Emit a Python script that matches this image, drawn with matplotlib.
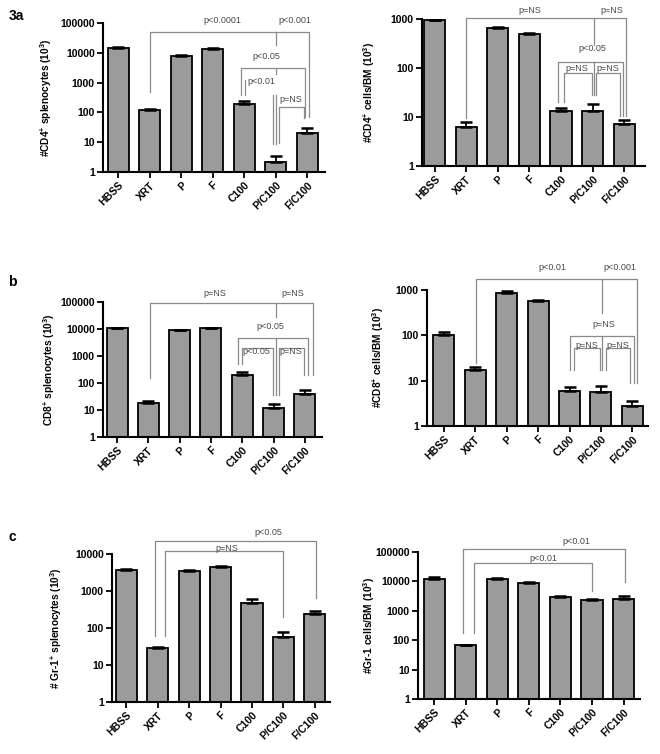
import matplotlib
matplotlib.use("Agg")
import matplotlib.pyplot as plt
from matplotlib.ticker import FixedLocator, FixedFormatter, NullLocator

plt.rcParams['font.family'] = ['Liberation Sans', 'DejaVu Sans']
plt.rcParams['mathtext.fontset'] = 'custom'
plt.rcParams['mathtext.rm'] = 'Liberation Sans:bold'
plt.rcParams['mathtext.it'] = 'Liberation Sans:bold'
plt.rcParams['mathtext.bf'] = 'Liberation Sans:bold'
plt.rcParams['mathtext.default'] = 'rm'

# ---------------- data ----------------
categories = ["HBSS", "XRT", "P", "F", "C100", "P/C100", "F/C100"]

cd4_spl = [14500, 120, 8000, 13500, 190, 2.2, 21]
cd4_spl_err = [1000, 10, 600, 800, 45, 1.2, 10]

cd4_bm = [940, 6.3, 650, 490, 13, 13.5, 7.3]
cd4_bm_err = [30, 1.5, 30, 25, 2, 4.5, 1.4]

cd8_spl = [11000, 18, 9000, 11000, 190, 12, 40]
cd8_spl_err = [300, 3, 300, 300, 55, 4, 15]

cd8_bm = [100, 17, 850, 580, 6, 5.5, 2.8]
cd8_bm_err = [18, 3, 120, 30, 1.4, 2.3, 0.7]

gr1_spl = [3800, 28, 3400, 4350, 470, 58, 235]
gr1_spl_err = [250, 3, 250, 450, 130, 22, 55]

gr1_bm = [12000, 67, 12000, 9000, 3000, 2300, 2500]
gr1_bm_err = [2500, 3, 1000, 300, 300, 300, 600]

ylabels = [
    "#CD4$^{+}$ splenocytes (10$^{3}$)",
    "#CD4$^{+}$ cells/BM (10$^{3}$)",
    "CD8$^{+}$ splenocytes (10$^{3}$)",
    "#CD8$^{+}$ cells/BM (10$^{3}$)",
    "# Gr-1$^{+}$ splenocytes (10$^{3}$)",
    "#Gr-1 cells/BM (10$^{3}$)",
]
ymax_exp = [5, 3, 5, 3, 4, 5]

# ---------------- style ----------------
W, H = 660, 754
BAR_COLOR = "#9b9b9b"
BR_COLOR = "#8a8a8a"
TXT_COLOR = "#4a4a4a"

fig = plt.figure(figsize=(W / 100, H / 100), dpi=100)
fig.patch.set_facecolor("white")


def add_ax(left, right, top, bottom):
    return fig.add_axes([left / W, 1 - bottom / H, (right - left) / W, (bottom - top) / H])


# pixel boxes (left, right, top, bottom) and xlims
boxes = [
    (103, 325, 23, 172),
    (422, 645, 19, 166),
    (103, 322, 302, 437),
    (427, 648, 290, 426),
    (112, 330, 554, 702),
    (418, 640, 552, 699),
]
xlims = [(-0.48, 6.57), (-0.40, 6.66), (-0.45, 6.55), (-0.54, 6.50), (-0.45, 6.48), (-0.51, 6.52)]
ylabel_x_px = [50, 373, 53, 382, 60, 373]

series = [
    (cd4_spl, cd4_spl_err),
    (cd4_bm, cd4_bm_err),
    (cd8_spl, cd8_spl_err),
    (cd8_bm, cd8_bm_err),
    (gr1_spl, gr1_spl_err),
    (gr1_bm, gr1_bm_err),
]

axes = []
for i, ((vals, errs), box) in enumerate(zip(series, boxes)):
    ax = add_ax(*box)
    axes.append(ax)
    x = list(range(len(categories)))
    ax.bar(x, vals, width=0.67, color=BAR_COLOR, edgecolor="black", linewidth=1.3, zorder=2)
    ax.errorbar(x, vals, yerr=[[0] * len(errs), errs], fmt="none", ecolor="black",
                elinewidth=1.3, capsize=4, capthick=1.8, zorder=3)
    ax.set_yscale("log")
    ax.set_ylim(1, 10 ** ymax_exp[i])
    ax.set_xlim(*xlims[i])
    ticks = [10 ** k for k in range(ymax_exp[i] + 1)]
    ax.yaxis.set_major_locator(FixedLocator(ticks))
    ax.yaxis.set_major_formatter(FixedFormatter([str(t) for t in ticks]))
    ax.yaxis.set_minor_locator(NullLocator())
    ax.set_xticks(x)
    ax.set_xticklabels(categories, rotation=45, ha="right", rotation_mode="anchor",
                       fontsize=7.5, fontweight="bold")
    for lab in ax.get_yticklabels():
        lab.set_fontsize(7.5)
        lab.set_fontweight("bold")
    ax.tick_params(axis="both", direction="out", length=4, width=1.3, pad=2, colors="black")
    for s in ["top", "right"]:
        ax.spines[s].set_visible(False)
    for s in ["left", "bottom"]:
        ax.spines[s].set_linewidth(1.5)
    ax.set_ylabel(ylabels[i], fontsize=7.3, fontweight="bold")
    left, right = box[0], box[1]
    ax.yaxis.set_label_coords((ylabel_x_px[i] + 4 - left) / (right - left), 0.5)
    ax.set_facecolor("none")


def bracket(ax, x1, x2, y, e1, e2):
    ax.plot([x1, x1, x2, x2], [e1, y, y, e2], color=BR_COLOR, lw=0.9, clip_on=False, zorder=4)


def vline(ax, x, y1, y2):
    ax.plot([x, x], [y1, y2], color=BR_COLOR, lw=0.9, clip_on=False, zorder=4)


def ptext(ax, x, y, s):
    ax.text(x, y, s, ha="center", va="center", fontsize=6.5, color=TXT_COLOR, clip_on=False, zorder=5)


# ---- panel 3a left ----
ax = axes[0]
bracket(ax, 1, 6.05, 49000, 500, 70)
vline(ax, 5.0, 49000, 18000)
bracket(ax, 3.9, 5.95, 3000, 380, 70)
vline(ax, 5.0, 3000, 2000)
vline(ax, 4.03, 1200, 380)
vline(ax, 4.93, 380, 9)
vline(ax, 5.0, 380, 9)
bracket(ax, 5.1, 5.9, 155, 9.4, 65)
ptext(ax, 3.3, 126000, "p<0.0001")
ptext(ax, 5.6, 126000, "p<0.001")
ptext(ax, 4.72, 7400, "p<0.05")
ptext(ax, 4.56, 1070, "p<0.01")
ptext(ax, 5.48, 275, "p=NS")

# ---- panel 3a right ----
ax = axes[1]
bracket(ax, 1, 6.05, 1050, 9.5, 10.5)
vline(ax, 5.03, 1050, 295)
bracket(ax, 3.9, 5.96, 134, 20, 10.5)
vline(ax, 5.03, 134, 28)
bracket(ax, 4.1, 4.97, 78, 20, 28)
bracket(ax, 5.1, 5.88, 78, 28, 10.5)
ptext(ax, 3.0, 1480, "p=NS")
ptext(ax, 5.6, 1480, "p=NS")
ptext(ax, 5.0, 245, "p<0.05")
ptext(ax, 4.5, 98, "p=NS")
ptext(ax, 5.48, 98, "p=NS")

# ---- panel b left ----
ax = axes[2]
bracket(ax, 1.05, 6.25, 89000, 150, 200)
vline(ax, 5.08, 89000, 29000)
bracket(ax, 3.85, 6.11, 4500, 490, 200)
bracket(ax, 3.98, 4.97, 1900, 490, 36)
bracket(ax, 5.16, 5.97, 1900, 36, 200)
vline(ax, 5.08, 4500, 36)
ptext(ax, 3.13, 209000, "p=NS")
ptext(ax, 5.63, 209000, "p=NS")
ptext(ax, 4.89, 12300, "p<0.05")
ptext(ax, 4.46, 1500, "p<0.05")
ptext(ax, 5.55, 1500, "p=NS")

# ---- panel b right ----
ax = axes[3]
bracket(ax, 1.01, 6.16, 1770, 24, 9)
vline(ax, 5.05, 1770, 310)
bracket(ax, 4.01, 6.05, 97, 17, 9)
bracket(ax, 4.15, 4.97, 52, 17, 17)
bracket(ax, 5.16, 5.92, 52, 17, 9)
vline(ax, 5.05, 97, 17)
ptext(ax, 3.46, 3160, "p<0.01")
ptext(ax, 5.6, 3160, "p<0.001")
ptext(ax, 5.1, 174, "p=NS")
ptext(ax, 4.54, 60, "p=NS")
ptext(ax, 5.55, 60, "p=NS")

# ---- panel c left ----
ax = axes[4]
bracket(ax, 0.92, 6.05, 23000, 60, 630)
bracket(ax, 1.24, 4.99, 12300, 60, 195)
ptext(ax, 4.52, 39000, "p<0.05")
ptext(ax, 3.2, 14000, "p=NS")

# ---- panel c right ----
ax = axes[5]
bracket(ax, 0.91, 6.05, 123000, 170, 9800)
bracket(ax, 1.25, 4.99, 41000, 170, 4800)
ptext(ax, 4.51, 234000, "p<0.01")
ptext(ax, 3.45, 62000, "p<0.01")

# panel letters
fig.text(16 / W, 1 - 16 / H, "3a", fontsize=10, fontweight="bold", ha="center", va="center")
fig.text(12 / W, 1 - 282 / H, "b", fontsize=10, fontweight="bold", ha="center", va="center")
fig.text(12 / W, 1 - 537 / H, "c", fontsize=10, fontweight="bold", ha="center", va="center")

fig.savefig("out.png", dpi=100, facecolor="white")
